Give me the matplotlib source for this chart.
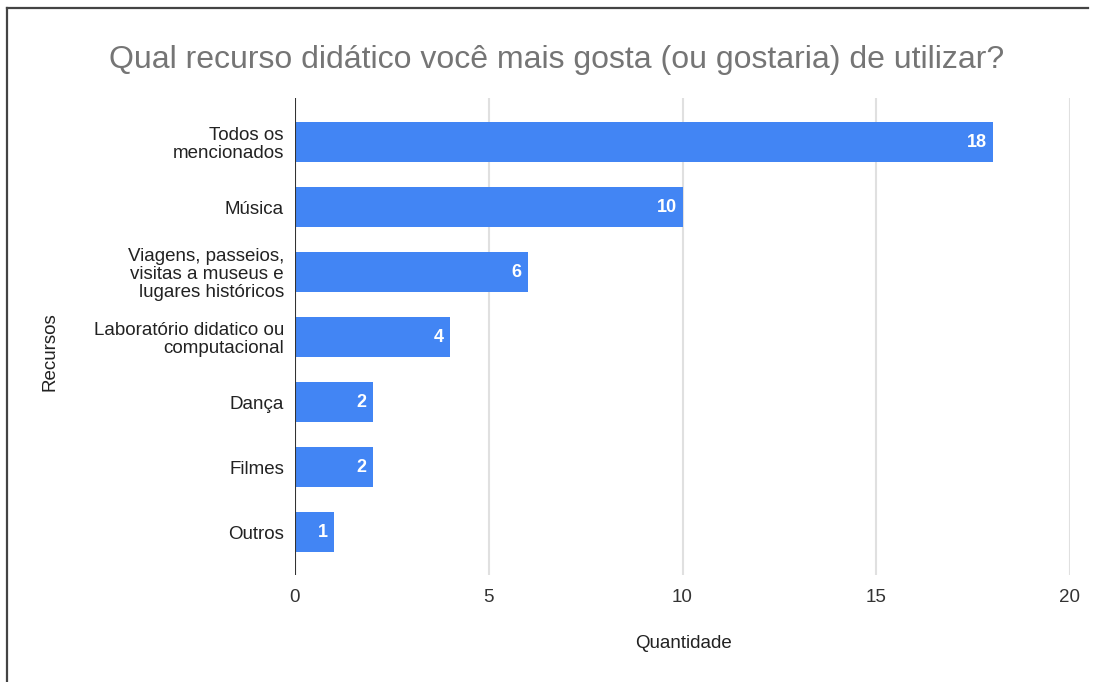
import matplotlib.pyplot as plt
from matplotlib.lines import Line2D

plt.rcParams['font.family'] = ['Liberation Sans', 'DejaVu Sans']

# respostas por recurso didatico
recursos = ['Todos os\nmencionados', 'Música',
            'Viagens, passeios,\nvisitas a museus e\nlugares históricos',
            'Laboratório didatico ou\ncomputacional', 'Dança', 'Filmes', 'Outros']
quantidade = [18, 10, 6, 4, 2, 2, 1]
ticks_x = [0, 5, 10, 15, 20]

W, H = 1095, 682
fig = plt.figure(figsize=(W / 100, H / 100), dpi=100)
ax = fig.add_axes([295 / W, 1 - 575 / H, 775 / W, 477 / H])

pos = list(range(len(recursos)))
barras = ax.barh(pos, quantidade, height=0.62, color='#4285f4', zorder=3)
for b, v in zip(barras, quantidade):
    ax.annotate(str(v), (v, b.get_y() + b.get_height() / 2), xytext=(-6, 0),
                textcoords='offset pixels', ha='right', va='center',
                color='white', fontsize=13, fontweight='bold', zorder=4)

ax.set_xlim(0, 20)
ax.set_ylim(6.66, -0.677)
ax.set_xticks(ticks_x)
ax.set_yticks(pos)
ax.set_yticklabels(recursos, fontsize=13.5, color='#222222', ha='right',
                   multialignment='right', linespacing=1.1)
ax.tick_params(axis='y', length=0, pad=8)
ax.tick_params(axis='x', length=0, pad=10, labelsize=13.5, labelcolor='#333333')
for t in ticks_x[1:]:
    ax.axvline(t, color='#e0e0e0', lw=1.5, zorder=1)
ax.axvline(0, color='#333333', lw=1.5, zorder=5)
for s in ax.spines.values():
    s.set_visible(False)

fig.text(557 / W, 1 - 60 / H, 'Qual recurso didático você mais gosta (ou gostaria) de utilizar?',
         ha='center', va='center', fontsize=23, color='#757575')
fig.text(683 / W, 1 - 643 / H, 'Quantidade', ha='center', va='center',
         fontsize=13.5, color='#222222')
fig.text(50 / W, 1 - 352 / H, 'Recursos', ha='center', va='center',
         rotation=90, fontsize=13.5, color='#222222')

# moldura (esquerda e topo)
fig.add_artist(Line2D([7 / W, 7 / W], [0, 1 - 8 / H], color='#444444', lw=1.6))
fig.add_artist(Line2D([7 / W, 1088 / W], [1 - 8 / H, 1 - 8 / H], color='#444444', lw=1.6))

fig.savefig('out.png', dpi=100)
